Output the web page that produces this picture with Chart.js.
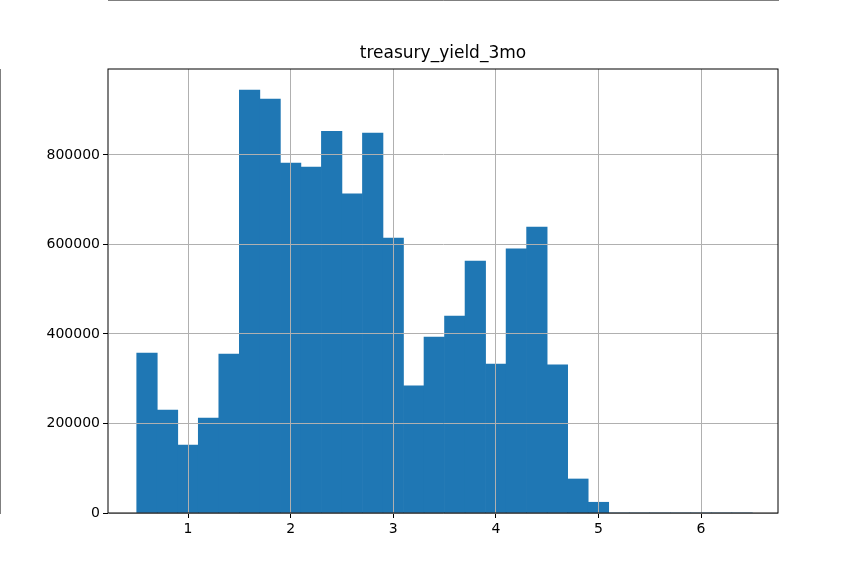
<!DOCTYPE html>
<html><head><script src="https://cdn.jsdelivr.net/npm/chart.js@4"></script>
<style>body{margin:0}</style></head><body>
<div style="width:864px;height:576px"><canvas id="c"></canvas></div>
<script>
const titleText = 'treasury_yield_3mo';
const binStart = 0.5, binWidth = 0.2;
const counts = [357500,230000,152000,212000,355000,945000,925000,782000,773000,853000,713000,849000,614000,284000,393000,440000,563000,333000,590000,639000,331000,76000,24000,0,0,0,0,0,0,0];
const xTicks = [1,2,3,4,5,6];
const yTicks = [0,200000,400000,600000,800000];
const pts = counts.map((v,i)=>({x: binStart+binWidth*(i+0.5), y: v}));
const box = {id:'box', afterDraw(c){const a=c.chartArea,ctx=c.ctx;ctx.save();ctx.strokeStyle='#000';ctx.lineWidth=1;ctx.strokeRect(a.left,a.top,a.right-a.left,a.bottom-a.top);
 ctx.fillStyle='#000';ctx.font='17px "DejaVu Sans"';ctx.textAlign='center';ctx.textBaseline='alphabetic';ctx.fillText(titleText,(a.left+a.right)/2,a.top-11);ctx.restore();}};
new Chart(document.getElementById('c'),{
 type:'bar',
 data:{datasets:[{data:pts,backgroundColor:'#1f77b4',barPercentage:1,categoryPercentage:1,borderWidth:0}]},
 options:{responsive:true,maintainAspectRatio:false,animation:false,
  layout:{padding:{left:0,right:86,top:69,bottom:0}},
  plugins:{legend:{display:false},tooltip:{enabled:false},title:{display:false}},
  scales:{
   x:{type:'linear',min:0.22,max:6.75,offset:false,
    afterBuildTicks(s){s.ticks=xTicks.map(v=>({value:v}));},
    afterFit(s){s.height=63;},
    ticks:{color:'#000',font:{family:'DejaVu Sans',size:14},autoSkip:false,maxRotation:0},
    grid:{color:'#b0b0b0',z:1,tickLength:5,tickColor:'#000',offset:false},border:{color:'#000'}},
   y:{min:0,max:992000,
    afterBuildTicks(s){s.ticks=yTicks.map(v=>({value:v}));},
    afterFit(s){s.width=108;},
    ticks:{color:'#000',font:{family:'DejaVu Sans',size:14},callback:v=>String(v)},
    grid:{color:'#b0b0b0',z:1,tickLength:5,tickColor:'#000'},border:{color:'#000'}}
  }},
 plugins:[box]
});
</script></body></html>
